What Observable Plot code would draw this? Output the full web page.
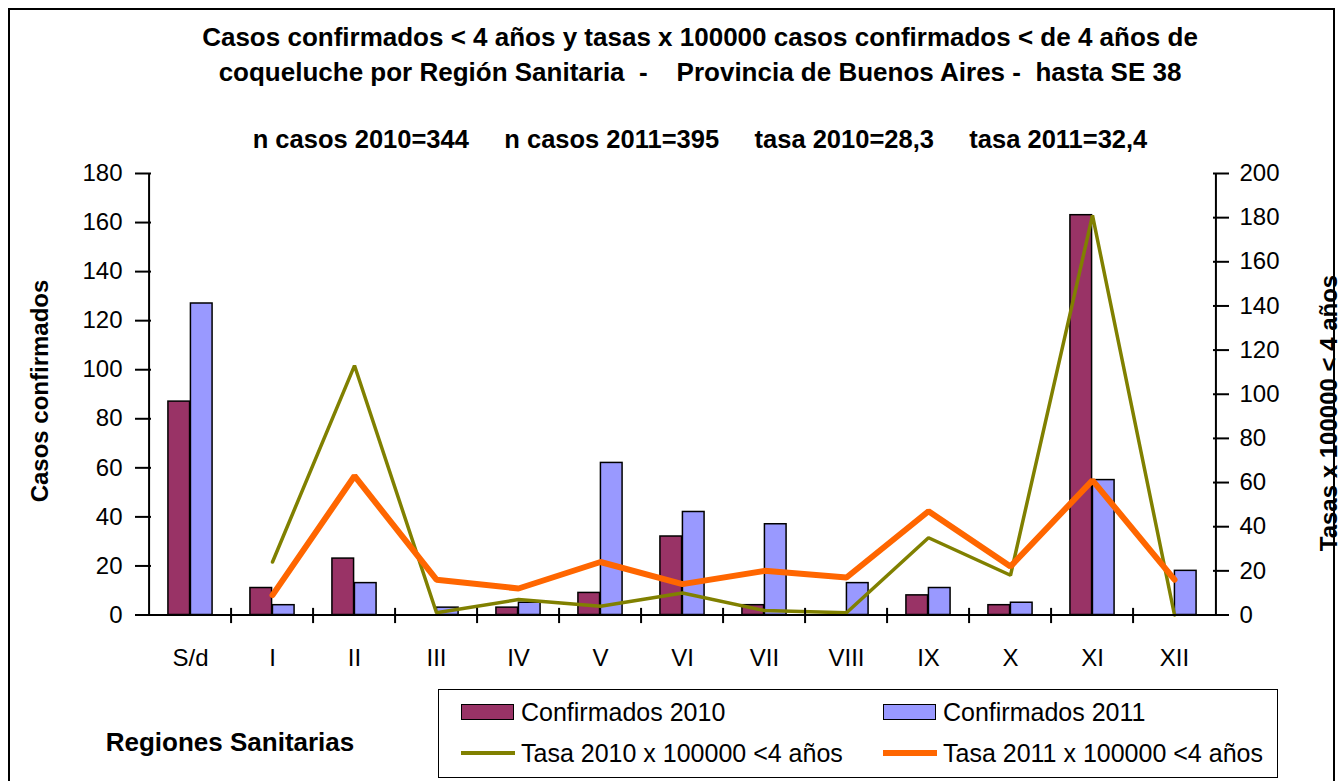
<!DOCTYPE html>
<html><head><meta charset="utf-8">
<script src="https://cdn.jsdelivr.net/npm/d3@7"></script>
<script src="https://cdn.jsdelivr.net/npm/@observablehq/plot@0.6"></script>
<style>
body{margin:0;background:#fff;font-family:"Liberation Sans",Arial,sans-serif;}
#wrap{position:relative;width:1343px;height:781px;overflow:hidden;background:#fff;}
#border{position:absolute;left:8px;top:8px;width:1327px;height:820px;border:2px solid #000;box-sizing:border-box;}
#chart{position:absolute;left:0;top:0;}
.t{position:absolute;font-weight:bold;color:#000;white-space:pre;}
#title{left:100px;width:1200px;top:20px;text-align:center;font-size:26px;line-height:35px;}
#sub{left:100px;width:1200px;top:122px;text-align:center;font-size:25.5px;line-height:35px;}
.rot{transform:translate(-50%,-50%) rotate(-90deg);font-size:24px;line-height:28px;}
#ylab{left:40px;top:391px;}
#ylab2{left:1329px;top:413px;}
#xlab{left:230px;top:742px;transform:translate(-50%,-50%);font-size:26px;line-height:30px;}
#legend{position:absolute;left:438px;top:689px;width:840px;height:89px;border:1.5px solid #000;box-sizing:border-box;}
.li{position:absolute;font-size:25px;line-height:30px;white-space:pre;}
.sw{position:absolute;box-sizing:border-box;}
</style></head>
<body>
<div id="wrap">
<div id="border"></div>
<div id="chart"></div>
<div class="t" id="title">Casos confirmados &lt; 4 años y tasas x 100000 casos confirmados &lt; de 4 años de
coqueluche por Región Sanitaria  -    Provincia de Buenos Aires -  hasta SE 38</div>
<div class="t" id="sub">n casos 2010=344     n casos 2011=395     tasa 2010=28,3     tasa 2011=32,4</div>
<div class="t rot" id="ylab">Casos confirmados</div>
<div class="t rot" id="ylab2">Tasas x 100000 &lt; 4 años</div>
<div class="t" id="xlab">Regiones Sanitarias</div>
<div id="legend"></div>
</div>
<script>
// ---- data ----
const regiones = ["S/d","I","II","III","IV","V","VI","VII","VIII","IX","X","XI","XII"];
const confirmados2010 = [87, 11, 23, 0, 3, 9, 32, 4, 0, 8, 4, 163, 0];
const confirmados2011 = [127, 4, 13, 3, 5, 62, 42, 37, 13, 11, 5, 55, 18];
const tasa2010 = [null, 24, 113, 1, 7, 4, 10, 2, 1, 35, 18, 181, 0];
const tasa2011 = [null, 9, 63, 16, 12, 24, 14, 20, 17, 47, 22, 61, 16];
const ticksCasos = [0, 20, 40, 60, 80, 100, 120, 140, 160, 180];
const ticksTasa = [0, 20, 40, 60, 80, 100, 120, 140, 160, 180, 200];
const seriesNames = ["Confirmados 2010", "Confirmados 2011", "Tasa 2010 x 100000 <4 años", "Tasa 2011 x 100000 <4 años"];
const colors = ["#993366", "#9999FF", "#808000", "#FF6600"];

// ---- layout ----
const W = 1343, H = 680, ML = 143, MR = 123, MT = 173, MB = 65.5;
const bw = (W - ML - MR) / regiones.length;
const barW = 22.5;
const k = 180 / 200; // right axis (tasa) -> left axis (casos)

const rows = regiones.map((r, i) => ({
  region: r, c10: confirmados2010[i], c11: confirmados2011[i], t10: tasa2010[i], t11: tasa2011[i]
}));
const font = "Liberation Sans, Arial, sans-serif";

const plot = Plot.plot({
  width: W, height: H,
  marginLeft: ML, marginRight: MR, marginTop: MT, marginBottom: MB,
  style: {fontFamily: font, fontSize: "24px", color: "#000", background: "transparent", overflow: "visible"},
  x: {type: "band", domain: regiones, padding: 0, label: null},
  y: {domain: [0, 180], label: null},
  marks: [
    Plot.barY(rows.filter(d => d.c10 > 0), {x: "region", y: "c10", fill: colors[0], stroke: "#000", strokeWidth: 1.5,
      insetLeft: bw / 2 - barW, insetRight: bw / 2}),
    Plot.barY(rows.filter(d => d.c11 > 0), {x: "region", y: "c11", fill: colors[1], stroke: "#000", strokeWidth: 1.5,
      insetLeft: bw / 2, insetRight: bw / 2 - barW}),
    Plot.lineY(rows.filter(d => d.t10 != null), {x: "region", y: d => d.t10 * k, stroke: colors[2], strokeWidth: 3.5, strokeLinejoin: "miter"}),
    Plot.lineY(rows.filter(d => d.t11 != null), {x: "region", y: d => d.t11 * k, stroke: colors[3], strokeWidth: 6, strokeLinejoin: "miter"}),
    // axis lines
    Plot.ruleY([0], {stroke: "#000", strokeWidth: 2}),
    Plot.ruleX([regiones[0]], {dx: -bw / 2, y1: 0, y2: 180, stroke: "#000", strokeWidth: 2}),
    Plot.ruleX([regiones[regiones.length - 1]], {dx: bw / 2, y1: 0, y2: 180, stroke: "#000", strokeWidth: 2}),
    // category boundary ticks
    Plot.ruleX(regiones.slice(1), {dx: -bw / 2, y1: -3.5, y2: 2.7, stroke: "#000", strokeWidth: 2}),
    Plot.axisX({tickSize: 0, tickPadding: 34, fontSize: 24, label: null}),
    Plot.axisY(ticksCasos, {anchor: "left", tickSize: 16, dx: 8, tickPadding: 13, fontSize: 24, label: null, strokeWidth: 2}),
    Plot.axisY(ticksTasa.map(t => t * k), {anchor: "right", tickSize: 16, dx: -8, tickPadding: 11, fontSize: 24, label: null,
      strokeWidth: 2, tickFormat: d => String(Math.round(d / k))})
  ]
});
document.getElementById("chart").appendChild(plot);

// ---- legend ----
const lg = document.getElementById("legend");
const pos = [[22, 22], [444, 22], [22, 63], [444, 63]];
seriesNames.forEach((name, i) => {
  const [x, y] = pos[i];
  const sw = document.createElement("div");
  sw.className = "sw";
  if (i < 2) {
    Object.assign(sw.style, {left: x + "px", top: (y - 8) + "px", width: "53px", height: "16px", background: colors[i], border: "1.5px solid #000"});
  } else {
    Object.assign(sw.style, {left: x + "px", top: (y - (i === 2 ? 2 : 3)) + "px", width: "54px", height: (i === 2 ? 4 : 6) + "px", background: colors[i]});
  }
  lg.appendChild(sw);
  const t = document.createElement("div");
  t.className = "li";
  t.textContent = name;
  Object.assign(t.style, {left: (x + 60) + "px", top: (y - 15) + "px"});
  lg.appendChild(t);
});
</script>
</body></html>
